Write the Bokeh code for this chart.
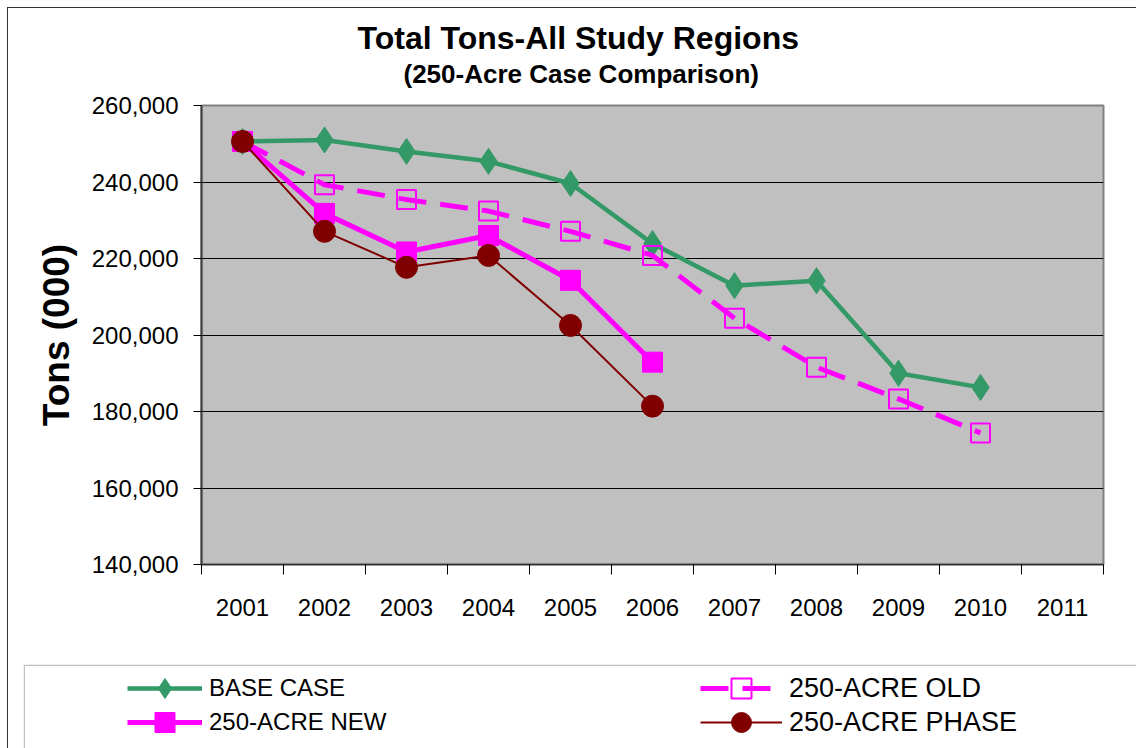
from bokeh.plotting import figure
from bokeh.layouts import column
from bokeh.models import (Range1d, FixedTicker, NumeralTickFormatter, Legend,
                          LegendItem, Title, BoxAnnotation)
from bokeh.embed import file_html
from bokeh.resources import INLINE

# ---------------- data ----------------
years_all = [2001, 2002, 2003, 2004, 2005, 2006, 2007, 2008, 2009, 2010, 2011]
year_labels = ["2001", "2002", "2003", "2004", "2005", "2006", "2007", "2008", "2009", "2010", "2011"]

base_years = [2001, 2002, 2003, 2004, 2005, 2006, 2007, 2008, 2009, 2010]
base_case = [250600, 251000, 248000, 245400, 239600, 223900, 212900, 214200, 190000, 186300]

old_years = [2001, 2002, 2003, 2004, 2005, 2006, 2007, 2008, 2009, 2010]
acre_old = [250600, 239300, 235400, 232400, 227100, 220800, 204400, 191600, 183300, 174400]

new_years = [2001, 2002, 2003, 2004, 2005, 2006]
acre_new = [250600, 231800, 221700, 226000, 214300, 192900]

phase_years = [2001, 2002, 2003, 2004, 2005, 2006]
acre_phase = [250600, 227100, 217700, 220800, 202500, 181400]

y_ticks = [140000, 160000, 180000, 200000, 220000, 240000, 260000]

FONT = "Liberation Sans"
GREEN = "#339966"
MAGENTA = "#FF00FF"
MAROON = "#800000"

STYLES = {
    "base": dict(line_color=GREEN, line_width=4.5),
    "base_m": dict(marker="diamond", size=26, fill_color=GREEN, line_color=GREEN),
    "old": dict(line_color=MAGENTA, line_width=5, line_dash="28 14"),
    "old_m": dict(marker="square", size=19, fill_color=None, line_color=MAGENTA, line_width=2),
    "new": dict(line_color=MAGENTA, line_width=5),
    "new_m": dict(marker="square", size=20, fill_color=MAGENTA, line_color=MAGENTA),
    "ph": dict(line_color=MAROON, line_width=2),
    "ph_m": dict(marker="circle", size=22, fill_color=MAROON, line_color=MAROON),
}

# ---------------- main chart ----------------
p = figure(width=1128, height=656, output_backend="svg", toolbar_location=None,
           x_range=Range1d(years_all[0] - 0.5, years_all[-1] + 0.5),
           y_range=Range1d(y_ticks[0], y_ticks[-1]),
           min_border_left=193, min_border_right=33, min_border_top=97, min_border_bottom=100,
           background_fill_color="#C0C0C0", border_fill_color="white")
p.title = None
p.frame_align = False
p.outline_line_color = "#808080"
p.outline_line_width = 2

sub = Title(text="(250-Acre Case Comparison)", align="left", offset=202, standoff=34,
            text_font=FONT, text_font_size="26px", text_font_style="bold", text_color="black")
main = Title(text="Total Tons-All Study Regions", align="left", offset=156, standoff=-32,
             text_font=FONT, text_font_size="32px", text_font_style="bold", text_color="black")
p.add_layout(sub, "above")
p.add_layout(main, "above")

yax = p.yaxis[0]
yax.ticker = FixedTicker(ticks=y_ticks)
yax.formatter = NumeralTickFormatter(format="0,0")
yax.major_label_text_font = FONT
yax.major_label_text_font_size = "24px"
yax.major_label_text_color = "black"
yax.major_tick_out = 8
yax.major_tick_in = 0
yax.major_tick_line_color = "black"
yax.minor_tick_line_color = None
yax.axis_line_color = "#404040"
yax.axis_line_width = 2
yax.major_label_standoff = 15
yax.axis_label = "Tons (000)"
yax.axis_label_text_font = FONT
yax.axis_label_text_font_size = "37px"
yax.axis_label_text_font_style = "bold"
yax.axis_label_text_color = "black"
yax.axis_label_standoff = 12

boundaries = [y - 0.5 for y in years_all] + [years_all[-1] + 0.5]
xax = p.xaxis[0]
xax.ticker = FixedTicker(ticks=years_all, minor_ticks=boundaries)
xax.major_label_overrides = {y: lab for y, lab in zip(years_all, year_labels)}
xax.major_label_text_font = FONT
xax.major_label_text_font_size = "24px"
xax.major_label_text_color = "black"
xax.major_tick_line_color = None
xax.major_tick_out = 0
xax.major_tick_in = 0
xax.minor_tick_out = 10
xax.minor_tick_in = 0
xax.minor_tick_line_color = "black"
xax.axis_line_color = "#303030"
xax.axis_line_width = 1.5
xax.major_label_standoff = 24

p.xgrid.visible = False
p.ygrid.ticker = FixedTicker(ticks=y_ticks)
p.ygrid.grid_line_color = "black"
p.ygrid.grid_line_width = 1

p.line(base_years, base_case, **STYLES["base"])
p.scatter(base_years, base_case, **STYLES["base_m"])
p.line(old_years, acre_old, **STYLES["old"])
p.scatter(old_years, acre_old, **STYLES["old_m"])
p.line(new_years, acre_new, **STYLES["new"])
p.scatter(new_years, acre_new, **STYLES["new_m"])
p.line(phase_years, acre_phase, **STYLES["ph"])
p.scatter(phase_years, acre_phase, **STYLES["ph_m"])

# ---------------- legend strip ----------------
lg = figure(width=1128, height=84, output_backend="svg", toolbar_location=None,
            x_range=Range1d(0, 1), y_range=Range1d(0, 1),
            x_axis_location=None, y_axis_location=None,
            min_border_left=15, min_border_right=0, min_border_top=0, min_border_bottom=0,
            background_fill_color="white", border_fill_color="white")
lg.title = None
lg.frame_align = False
lg.outline_line_color = None
lg.xgrid.visible = False
lg.ygrid.visible = False

# legend renderers use the same series (outside the strip's visible range)
lb = [lg.line(base_years, base_case, **STYLES["base"]),
      lg.scatter(base_years, base_case, **STYLES["base_m"])]
lo = [lg.line(old_years, acre_old, **STYLES["old"]),
      lg.scatter(old_years, acre_old, **STYLES["old_m"])]
ln = [lg.line(new_years, acre_new, **STYLES["new"]),
      lg.scatter(new_years, acre_new, **STYLES["new_m"])]
lp = [lg.line(phase_years, acre_phase, **STYLES["ph"]),
      lg.scatter(phase_years, acre_phase, **STYLES["ph_m"])]

common = dict(orientation="vertical", glyph_height=50, label_height=50, spacing=0,
              padding=0, margin=0, label_standoff=7, border_line_color=None,
              background_fill_alpha=0, label_text_font=FONT, label_text_color="black")
legend_specs = [
    ("BASE CASE", lb, (104, 35), 75, "24px"),
    ("250-ACRE NEW", ln, (104, 1), 75, "24px"),
    ("250-ACRE OLD", lo, (677, 35), 82, "27px"),
    ("250-ACRE PHASE", lp, (677, 1), 82, "27px"),
]
for label, rends, loc, gw, fs in legend_specs:
    lg.add_layout(Legend(items=[LegendItem(label=label, renderers=rends)],
                         location=loc, glyph_width=gw, label_text_font_size=fs, **common))

box = BoxAnnotation(left=15.75, right=5000, top=0.75, bottom=5000,
                    left_units="canvas", right_units="canvas",
                    top_units="canvas", bottom_units="canvas",
                    fill_color=None, fill_alpha=0, line_color="#333333", line_width=1.5)
lg.add_layout(box)

layout = column(p, lg, spacing=0,
                styles={"margin-left": "7px", "margin-top": "7px",
                        "border-left": "1px solid #333333", "border-top": "1px solid #333333"})

open("out.html", "w").write(file_html(layout, INLINE))
